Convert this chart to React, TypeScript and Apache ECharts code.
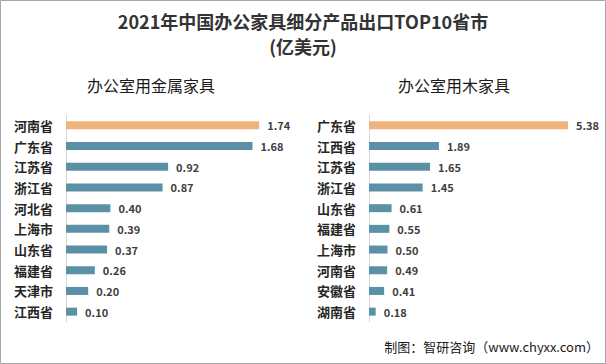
import React, { useEffect, useRef } from "react";
import * as echarts from "echarts";

const metalCategories = ["河南省", "广东省", "江苏省", "浙江省", "河北省", "上海市", "山东省", "福建省", "天津市", "江西省"];
const metalValues = [1.74, 1.68, 0.92, 0.87, 0.4, 0.39, 0.37, 0.26, 0.2, 0.1];
const woodCategories = ["广东省", "江西省", "江苏省", "浙江省", "山东省", "福建省", "上海市", "河南省", "安徽省", "湖南省"];
const woodValues = [5.38, 1.89, 1.65, 1.45, 0.61, 0.55, 0.5, 0.49, 0.41, 0.18];

const FONT = "'Noto Sans CJK SC', 'Noto Sans', sans-serif";
const ORANGE = "#EFB47E";
const BLUE = "#5B91A6";

function barData(vals: number[]) {
  return vals.map((v, i) => ({ value: v, itemStyle: { color: i === 0 ? ORANGE : BLUE } }));
}

export default function App() {
  const ref = useRef<HTMLDivElement>(null);
  useEffect(() => {
    const chart = echarts.init(ref.current!, null, { renderer: "svg" });
    const yAxisCommon = {
      type: "category" as const,
      inverse: true,
      axisTick: { show: false },
      axisLine: { show: true, lineStyle: { color: "#d9d9d9", width: 1 } },
      axisLabel: { fontFamily: FONT, fontSize: 13, fontWeight: "bold", color: "#262626", margin: 13 },
    };
    const xAxisCommon = {
      type: "value" as const,
      min: 0,
      show: false,
      splitLine: { show: false },
    };
    const labelCommon = {
      show: true,
      position: "right" as const,
      distance: 8,
      fontFamily: FONT,
      fontSize: 11,
      fontWeight: "bold",
      color: "#404040",
      formatter: (p: any) => Number(p.value).toFixed(2),
    };
    chart.setOption({
      animation: false,
      backgroundColor: "#ffffff",
      title: [
        {
          text: "2021年中国办公家具细分产品出口TOP10省市\n(亿美元)",
          left: 303,
          textAlign: "center",
          top: 8,
          padding: 0,
          textStyle: { fontFamily: FONT, fontSize: 18, fontWeight: "bold", color: "#333333", lineHeight: 25 },
        },
        {
          text: "办公室用金属家具",
          left: 151,
          textAlign: "center",
          top: 76,
          padding: 0,
          textStyle: { fontFamily: FONT, fontSize: 16, fontWeight: "normal", color: "#1a1a1a", lineHeight: 17 },
        },
        {
          text: "办公室用木家具",
          left: 454,
          textAlign: "center",
          top: 76,
          padding: 0,
          textStyle: { fontFamily: FONT, fontSize: 16, fontWeight: "normal", color: "#1a1a1a", lineHeight: 17 },
        },
      ],
      grid: [
        { left: 66, top: 115, width: 222, height: 207 },
        { left: 369, top: 115, width: 222, height: 207 },
      ],
      xAxis: [
        { ...xAxisCommon, gridIndex: 0, max: 2 },
        { ...xAxisCommon, gridIndex: 1, max: 6 },
      ],
      yAxis: [
        { ...yAxisCommon, gridIndex: 0, data: metalCategories },
        { ...yAxisCommon, gridIndex: 1, data: woodCategories },
      ],
      series: [
        {
          type: "bar",
          xAxisIndex: 0,
          yAxisIndex: 0,
          barWidth: 8,
          data: barData(metalValues),
          label: labelCommon,
        },
        {
          type: "bar",
          xAxisIndex: 1,
          yAxisIndex: 1,
          barWidth: 8,
          data: barData(woodValues),
          label: labelCommon,
        },
      ],
      graphic: [
        {
          type: "rect",
          shape: { x: 0.5, y: 0.5, width: 605, height: 363 },
          style: { fill: "none", stroke: "#a6a6a6", lineWidth: 1 },
          silent: true,
        },
        {
          type: "text",
          right: 7,
          top: 340,
          style: {
            text: "制图：智研咨询（www.chyxx.com）",
            font: `13px ${FONT}`,
            fill: "#1a1a1a",
          },
        },
      ],
    });
    return () => chart.dispose();
  }, []);
  return (
    <div
      ref={ref}
      style={{ position: "fixed", left: 0, top: 0, width: 606, height: 364 }}
    />
  );
}
